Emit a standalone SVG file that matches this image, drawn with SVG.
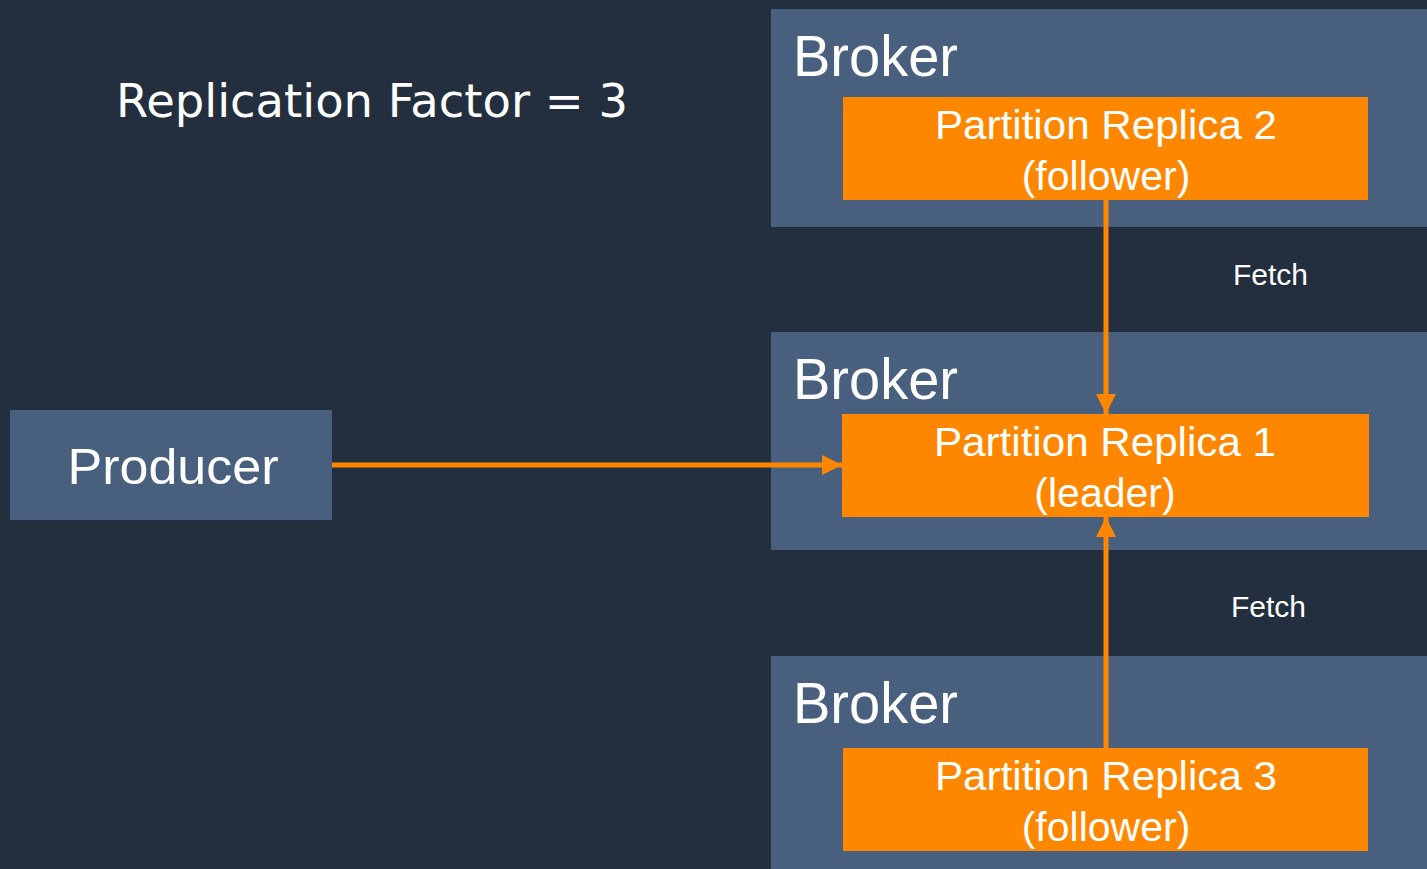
<svg xmlns="http://www.w3.org/2000/svg" width="1427" height="869" viewBox="0 0 1427 869">
  <defs>
    <style>
      .broker { fill: #485F7E; }
      .replica { fill: #FF8700; }
      .producer { fill: #485F7E; }
      .sans { font-family: "Liberation Sans", Arial, sans-serif; fill: #FFFFFF; }
      .title { font-family: "DejaVu Sans", Verdana, sans-serif; fill: #FFFFFF; font-size: 46px; }
      .broker-label { font-size: 57px; }
      .replica-label { font-size: 41px; text-anchor: middle; }
      .producer-label { font-size: 50px; text-anchor: middle; }
      .fetch-label { font-size: 30px; }
      .link { stroke: #FF8700; stroke-width: 5; fill: none; }
    </style>
    <marker id="arrow" markerUnits="userSpaceOnUse" markerWidth="20" markerHeight="20" refX="20" refY="10" orient="auto">
      <path d="M0,0 L20,10 L0,20 Z" fill="#FF8700"/>
    </marker>
  </defs>

  <!-- background -->
  <rect x="0" y="0" width="1427" height="869" fill="#232F3F"/>

  <text class="title" x="116" y="117" textLength="512" lengthAdjust="spacingAndGlyphs">Replication Factor = 3</text>

  <!-- broker hosting replica 2 -->
  <g id="broker-1">
    <rect class="broker" x="771" y="9" width="656" height="218"/>
    <text class="sans broker-label" x="793" y="76" textLength="165" lengthAdjust="spacingAndGlyphs">Broker</text>
  </g>
  <g id="replica-2">
    <rect class="replica" x="843" y="97" width="525" height="103"/>
    <text class="sans replica-label" x="1106" y="139" textLength="342" lengthAdjust="spacingAndGlyphs">Partition Replica 2</text>
    <text class="sans replica-label" x="1106" y="190">(follower)</text>
  </g>

  <!-- broker hosting the leader -->
  <g id="broker-2">
    <rect class="broker" x="771" y="332" width="656" height="218"/>
    <text class="sans broker-label" x="793" y="399" textLength="165" lengthAdjust="spacingAndGlyphs">Broker</text>
  </g>
  <g id="replica-1">
    <rect class="replica" x="842" y="414" width="527" height="103"/>
    <text class="sans replica-label" x="1105" y="456" textLength="342" lengthAdjust="spacingAndGlyphs">Partition Replica 1</text>
    <text class="sans replica-label" x="1105" y="507">(leader)</text>
  </g>

  <!-- broker hosting replica 3 -->
  <g id="broker-3">
    <rect class="broker" x="771" y="656" width="656" height="213"/>
    <text class="sans broker-label" x="793" y="723" textLength="165" lengthAdjust="spacingAndGlyphs">Broker</text>
  </g>
  <g id="replica-3">
    <rect class="replica" x="843" y="748" width="525" height="103"/>
    <text class="sans replica-label" x="1106" y="790" textLength="342" lengthAdjust="spacingAndGlyphs">Partition Replica 3</text>
    <text class="sans replica-label" x="1106" y="841">(follower)</text>
  </g>

  <g id="producer">
    <rect class="producer" x="10" y="410" width="322" height="110"/>
    <text class="sans producer-label" x="173" y="484" textLength="211" lengthAdjust="spacingAndGlyphs">Producer</text>
  </g>

  <!-- connectors -->
  <g id="connectors">
    <line class="link" x1="332" y1="465" x2="842" y2="465" marker-end="url(#arrow)"/>
    <line class="link" x1="1106" y1="200" x2="1106" y2="414" marker-end="url(#arrow)"/>
    <line class="link" x1="1106" y1="748" x2="1106" y2="517" marker-end="url(#arrow)"/>
    <text class="sans fetch-label" x="1233" y="285">Fetch</text>
    <text class="sans fetch-label" x="1231" y="617">Fetch</text>
  </g>
</svg>
